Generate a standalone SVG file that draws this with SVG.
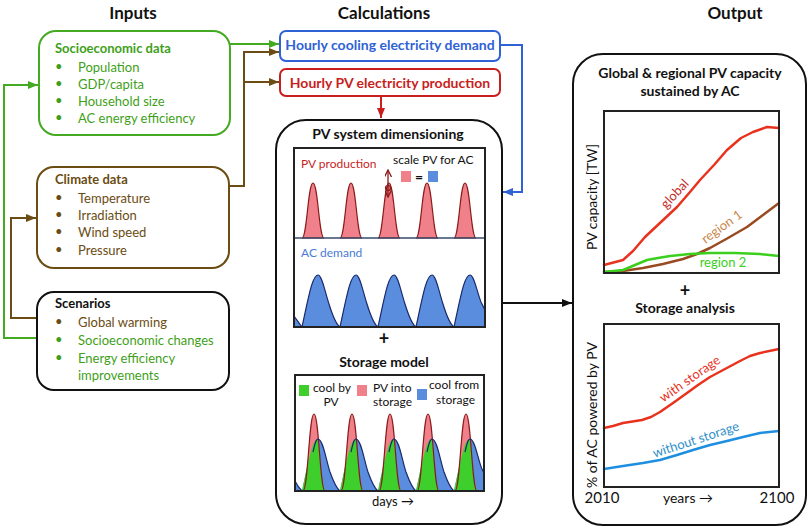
<svg xmlns="http://www.w3.org/2000/svg" width="810" height="528" viewBox="0 0 810 528">
<style>
text{font-family:"Lato","Open Sans",sans-serif;}
.hd{font-size:17px;font-weight:bold;fill:#111;text-anchor:middle;}
.b{font-weight:bold;}
.t13{font-size:13px;}
.t12{font-size:12px;}
.g{fill:#3f9f1a;}
.br{fill:#6b4c12;}
.k{fill:#111;}
.mid{text-anchor:middle;}
.frame{fill:none;stroke:#222;stroke-width:2;}
.conn{fill:none;stroke-width:2;}
.pv{fill:#f0808a;}
.pvs{fill:none;stroke:#8b1a1a;stroke-width:1.2;}
.ac{fill:#5b8ddf;}
.acs{fill:none;stroke:#1a2a6b;stroke-width:1.2;}
.gr{fill:#3fcf2c;}
.ln{fill:none;stroke-width:2.5;stroke-linejoin:round;stroke-linecap:round;}
</style>
<defs>
<marker id="aG" markerWidth="10" markerHeight="8" refX="10" refY="4" orient="auto" markerUnits="userSpaceOnUse"><path d="M0,0 L10,4 L0,8 z" fill="#44aa22"/></marker>
<marker id="aB" markerWidth="10" markerHeight="8" refX="10" refY="4" orient="auto" markerUnits="userSpaceOnUse"><path d="M0,0 L10,4 L0,8 z" fill="#6b4c12"/></marker>
<marker id="aR" markerWidth="10" markerHeight="8" refX="10" refY="4" orient="auto" markerUnits="userSpaceOnUse"><path d="M0,0 L10,4 L0,8 z" fill="#c81e1e"/></marker>
<marker id="aL" markerWidth="10" markerHeight="8" refX="10" refY="4" orient="auto" markerUnits="userSpaceOnUse"><path d="M0,0 L10,4 L0,8 z" fill="#2f62d4"/></marker>
<marker id="aK" markerWidth="10" markerHeight="8" refX="10" refY="4" orient="auto" markerUnits="userSpaceOnUse"><path d="M0,0 L10,4 L0,8 z" fill="#111"/></marker>
<marker id="aD" markerWidth="8" markerHeight="7" refX="7" refY="3.5" orient="auto-start-reverse" markerUnits="userSpaceOnUse"><path d="M0,0 L7,3.5 L0,7" fill="none" stroke="#8b1a1a" stroke-width="1.3"/></marker>
</defs>

<text class="hd" x="133" y="19">Inputs</text>
<text class="hd" x="384" y="19">Calculations</text>
<text class="hd" x="735" y="19">Output</text>

<g id="connectors">
<path class="conn" stroke="#44aa22" d="M230,44 H279" marker-end="url(#aG)"/>
<path class="conn" stroke="#6b4c12" d="M229,186 H244 V52 H279" marker-end="url(#aB)"/>
<path class="conn" stroke="#6b4c12" d="M244,82 H279" marker-end="url(#aB)"/>
<path class="conn" stroke="#44aa22" d="M37,338 H4 V85 H38" marker-end="url(#aG)"/>
<path class="conn" stroke="#6b4c12" d="M37,318 H11 V218 H36" marker-end="url(#aB)"/>
<path class="conn" stroke="#c81e1e" d="M381,96 V118" marker-end="url(#aR)"/>
<path class="conn" stroke="#2f62d4" d="M500,45 H522 V192 H503" marker-end="url(#aL)"/>
<path class="conn" stroke="#111" d="M502,303 H572" marker-end="url(#aK)"/>
</g>

<g id="socioeconomic">
<rect x="39" y="31" width="191" height="104" rx="17" fill="#fff" stroke="#44aa22" stroke-width="2"/>
<text class="t13 b g" x="55" y="53">Socioeconomic data</text>
<g class="t13 g">
<text x="55" y="71">•</text><text x="78" y="72">Population</text>
<text x="55" y="88">•</text><text x="78" y="89">GDP/capita</text>
<text x="55" y="105">•</text><text x="78" y="106">Household size</text>
<text x="55" y="122">•</text><text x="78" y="123">AC energy efficiency</text>
</g>
</g>

<g id="climate">
<rect x="37" y="167" width="192" height="101" rx="17" fill="#fff" stroke="#6b4c12" stroke-width="2"/>
<text class="t13 b br" x="55" y="184">Climate data</text>
<g class="t13 br">
<text x="55" y="202">•</text><text x="78" y="203">Temperature</text>
<text x="55" y="219">•</text><text x="78" y="220">Irradiation</text>
<text x="55" y="236">•</text><text x="78" y="237">Wind speed</text>
<text x="55" y="254">•</text><text x="78" y="255">Pressure</text>
</g>
</g>

<g id="scenarios">
<rect x="37" y="292" width="192" height="98" rx="17" fill="#fff" stroke="#111" stroke-width="2"/>
<text class="t13 b k" x="55" y="308">Scenarios</text>
<g class="t13">
<text class="br" x="55" y="326">•</text><text class="br" x="78" y="327">Global warming</text>
<text class="g" x="55" y="344">•</text><text class="g" x="78" y="345">Socioeconomic changes</text>
<text class="g" x="55" y="362">•</text><text class="g" x="78" y="363">Energy efficiency</text>
<text class="g" x="78" y="380">improvements</text>
</g>
</g>

<g id="cooling-demand">
<rect x="280" y="31" width="220" height="30" rx="6" fill="#fff" stroke="#2f62d4" stroke-width="2"/>
<text class="b mid" x="390" y="50" font-size="14" fill="#2f62d4">Hourly cooling electricity demand</text>
</g>

<g id="pv-production">
<rect x="280" y="69" width="220" height="27" rx="6" fill="#fff" stroke="#c81e1e" stroke-width="2"/>
<text class="b mid" x="390" y="88" font-size="14" fill="#c81e1e">Hourly PV electricity production</text>
</g>

<g id="pv-system">
<rect x="276" y="120" width="226" height="404" rx="30" fill="#fff" stroke="#111" stroke-width="2"/>
<text class="b mid k" x="388" y="139" font-size="14">PV system dimensioning</text>
<path class="pv" stroke="#8b1a1a" stroke-width="1.2" d="M302,238 C307,238 308,183 313,183 C318,183 319,238 324,238 Z M340,238 C345,238 346,183 351,183 C356,183 357,238 362,238 Z M378,238 C383,238 384,183 389,183 C394,183 395,238 400,238 Z M416,238 C421,238 422,183 427,183 C432,183 433,238 438,238 Z M454,238 C459,238 460,183 465,183 C470,183 471,238 476,238 Z"/>
<text class="t12" x="301" y="168" fill="#c81e1e">PV production</text>
<text class="t12 k" x="393" y="164">scale PV for AC</text>
<rect x="401" y="171" width="10" height="11" fill="#f0808a"/>
<text class="b k" x="419" y="182" font-size="14" text-anchor="middle">=</text>
<rect x="428" y="171" width="10" height="11" fill="#5b8ddf"/>
<line x1="388" y1="170" x2="388" y2="197" stroke="#8b1a1a" stroke-width="1.3" marker-start="url(#aD)" marker-end="url(#aD)"/>
<circle cx="388" cy="188" r="2.5" fill="none" stroke="#8b1a1a" stroke-width="1.2"/>
<line x1="294" y1="238" x2="485" y2="238" stroke="#3a4a6b" stroke-width="1.3"/>
<path class="ac" d="M294,327 L294,316 C297,320 300,325 302,327 C308,300 312,275 318,275 C322,275 325,292 329,304 C333,317 337,325 340,327 C346,300 350,275 356,275 C360,275 363,292 367,304 C371,317 375,325 378,327 C384,300 388,275 394,275 C398,275 401,292 405,304 C409,317 413,325 416,327 C422,300 426,275 432,275 C436,275 439,292 443,304 C447,317 451,325 454,327 C460,300 464,275 470,275 C474,275 477,292 481,302 L485,310 L485,327 Z"/>
<path class="acs" d="M294,316 C297,320 300,325 302,327 C308,300 312,275 318,275 C322,275 325,292 329,304 C333,317 337,325 340,327 C346,300 350,275 356,275 C360,275 363,292 367,304 C371,317 375,325 378,327 C384,300 388,275 394,275 C398,275 401,292 405,304 C409,317 413,325 416,327 C422,300 426,275 432,275 C436,275 439,292 443,304 C447,317 451,325 454,327 C460,300 464,275 470,275 C474,275 477,292 481,302 L485,310"/>
<text class="t12" x="301" y="257" fill="#4a7bd6">AC demand</text>
<rect class="frame" x="294" y="148" width="191" height="179"/>
<text class="b mid k" x="384" y="345" font-size="18">+</text>
<text class="b mid k" x="384" y="367" font-size="14">Storage model</text>
<path class="ac" d="M295,491 L295,481 C297,485 300,489 302,491 C308,464 312,439 318,439 C323,439 326,460 330,472 C334,483 337,489 340,491 C346,464 350,439 356,439 C361,439 364,460 368,472 C372,483 375,489 378,491 C384,464 388,439 394,439 C399,439 402,460 406,472 C410,483 413,489 416,491 C422,464 426,439 432,439 C437,439 440,460 444,472 C448,483 451,489 454,491 C460,464 464,439 470,439 C475,439 478,460 482,469 L484,473 L484,491 Z"/>
<path class="pv" d="M303,491 C308,491 309,414 314,414 C319,414 320,491 325,491 Z M341,491 C346,491 347,414 352,414 C357,414 358,491 363,491 Z M379,491 C384,491 385,414 390,414 C395,414 396,491 401,491 Z M417,491 C422,491 423,414 428,414 C433,414 434,491 439,491 Z M455,491 C460,491 461,414 466,414 C471,414 472,491 477,491 Z"/>
<path class="gr" d="M302,491 C308,464 312,439 318,439 C319.5,450 321,478 325,491 Z M340,491 C346,464 350,439 356,439 C357.5,450 359,478 363,491 Z M378,491 C384,464 388,439 394,439 C395.5,450 397,478 401,491 Z M416,491 C422,464 426,439 432,439 C433.5,450 435,478 439,491 Z M454,491 C460,464 464,439 470,439 C471.5,450 473,478 477,491 Z"/>
<path class="pvs" d="M303,491 C308,491 309,414 314,414 C319,414 320,491 325,491 M341,491 C346,491 347,414 352,414 C357,414 358,491 363,491 M379,491 C384,491 385,414 390,414 C395,414 396,491 401,491 M417,491 C422,491 423,414 428,414 C433,414 434,491 439,491 M455,491 C460,491 461,414 466,414 C471,414 472,491 477,491"/>
<path class="acs" d="M295,481 C297,485 300,489 302,491 M313,452 C315,443 316,439 318,439 C323,439 326,460 330,472 C334,483 337,489 340,491 M351,452 C353,443 354,439 356,439 C361,439 364,460 368,472 C372,483 375,489 378,491 M389,452 C391,443 392,439 394,439 C399,439 402,460 406,472 C410,483 413,489 416,491 M427,452 C429,443 430,439 432,439 C437,439 440,460 444,472 C448,483 451,489 454,491 M465,452 C467,443 468,439 470,439 C475,439 478,460 482,469 L484,473"/>
<rect x="299" y="385" width="10" height="11" fill="#3fcf2c"/>
<text class="t12 k" x="313" y="392">cool by</text>
<text class="t12 k mid" x="331" y="406">PV</text>
<rect x="357" y="385" width="10" height="11" fill="#f0808a"/>
<text class="t12 k" x="373" y="392">PV into</text>
<text class="t12 k" x="373" y="406">storage</text>
<rect x="417" y="389" width="10" height="11" fill="#5b8ddf"/>
<text class="t12 k" x="429" y="389">cool from</text>
<text class="t12 k" x="436" y="404">storage</text>
<rect class="frame" x="295" y="375" width="189" height="116"/>
<text class="t13 k mid" x="393" y="506">days →</text>
</g>

<g id="output">
<rect x="573" y="54" width="233" height="471" rx="30" fill="#fff" stroke="#111" stroke-width="2"/>
<text class="b mid k" x="690" y="78" font-size="14">Global &amp; regional PV capacity</text>
<text class="b mid k" x="690" y="96" font-size="14">sustained by AC</text>
<polyline class="ln" stroke="#9a4a20" points="604,272 623,271 643,268 663,264 683,259 697,254 710,248 728,238 747,227 763,215 779,203"/>
<polyline class="ln" stroke="#3ccf1e" points="604,272 623,270 635,265 647,260 658,258 670,256 690,254 710,253 735,253 760,254 779,256"/>
<polyline class="ln" stroke="#e8321e" points="604,265 623,260 633,251 645,237 661,222 677,207 690,192 700,180 714,165 727,150 741,138 753,132 767,127 779,128"/>
<rect class="frame" x="604" y="111" width="175" height="162"/>
<text class="mid" x="592" y="197" transform="rotate(-90 592 197)" font-size="14" fill="#111" dy="5">PV capacity [TW]</text>
<text class="t13 mid" x="675" y="194" transform="rotate(-47 675 194)" fill="#c0281e" dy="4">global</text>
<text class="t13 mid" x="722" y="227" transform="rotate(-36 722 227)" fill="#c8864a" dy="4">region 1</text>
<text class="t13 mid" x="723" y="267" fill="#3ccf1e">region 2</text>
<text class="b mid k" x="685" y="297" font-size="18">+</text>
<text class="b mid k" x="685" y="313" font-size="14">Storage analysis</text>
<polyline class="ln" stroke="#e8321e" points="604,428 613,426 623,423 642,420 651,417 660,412 673,403 687,393 698,385 710,377 725,369 740,361 750,356 760,353 779,349"/>
<polyline class="ln" stroke="#1e8fe0" points="604,469 623,466 643,463 660,460 677,455 693,450 710,445 727,441 743,437 760,433 779,431"/>
<rect class="frame" x="604" y="324" width="175" height="163"/>
<text class="mid" x="592" y="415" transform="rotate(-90 592 415)" font-size="14" fill="#111" dy="5">% of AC powered by PV</text>
<text class="t13 mid" x="690" y="379" transform="rotate(-35 690 379)" fill="#e8321e" dy="4">with storage</text>
<text class="t13 mid" x="696" y="440" transform="rotate(-18 696 440)" fill="#2f8fc8" dy="4">without storage</text>
<text class="mid k" x="602" y="503" font-size="15">2010</text>
<text class="mid k" x="688" y="503" font-size="14">years →</text>
<text class="mid k" x="777" y="503" font-size="15">2100</text>
</g>
</svg>
